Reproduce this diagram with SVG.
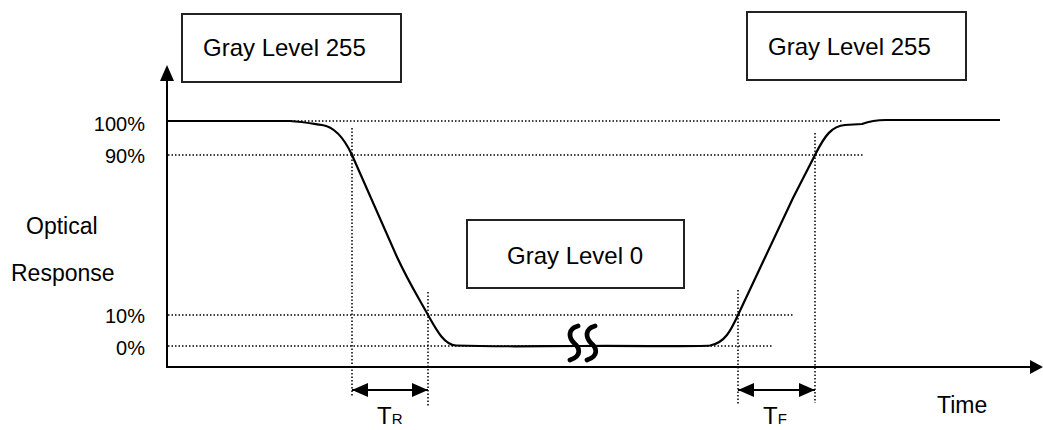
<svg xmlns="http://www.w3.org/2000/svg" width="1043" height="430" viewBox="0 0 1043 430">
<style>
text{font-family:"Liberation Sans",Arial,sans-serif;fill:#000}
.box{fill:#fff;stroke:#222;stroke-width:2}
.lbl{font-size:24px}
.pct{font-size:20px;text-anchor:end}
.ax{font-size:23px}
.dot{stroke:#000;stroke-width:1.5;stroke-dasharray:1.5 2;fill:none}
.solid{stroke:#000;stroke-width:2;fill:none}
.curve{stroke:#000;stroke-width:2.2;fill:none;stroke-linejoin:round}
.brk{stroke:#000;stroke-width:4.8;fill:none;stroke-linecap:round}
</style>
<defs>
<marker id="ah" viewBox="0 0 16 14" refX="16" refY="7" markerWidth="16" markerHeight="14" markerUnits="userSpaceOnUse" orient="auto-start-reverse">
<path d="M0,0 L16,7 L0,14 Z" fill="#000"/>
</marker>
</defs>
<g id="axes">
<line class="solid" x1="167" y1="78" x2="167" y2="367"/>
<path d="M167,65 L174,81 L160,81 Z" fill="#000"/>
<line class="solid" x1="166" y1="367" x2="1032" y2="367"/>
<path d="M1043,367 L1030,360 L1030,374 Z" fill="#000"/>
</g>
<g id="gridlines">
<line class="dot" x1="168" y1="121" x2="843" y2="121"/>
<line class="dot" x1="168" y1="155" x2="864" y2="155"/>
<line class="dot" x1="168" y1="315" x2="793" y2="315"/>
<line class="dot" x1="168" y1="346" x2="773" y2="346"/>
<line class="dot" x1="352" y1="128" x2="352" y2="397"/>
<line class="dot" x1="428" y1="292" x2="428" y2="406"/>
<line class="dot" x1="738" y1="290" x2="738" y2="404"/>
<line class="dot" x1="815" y1="133" x2="815" y2="403"/>
</g>
<g id="curve">
<path class="curve" d="M167,121 L290,121 C305,122 314,124 322,125 C336,127 345,140 352,155 L397,257 C410,285 420,300 428,315 C438,333 445,345 456,345.5 C500,347 540,346 580,346 C640,345.5 690,347 710,345.5 C725,343 731,330 738,315 L793,198 L815,155 C825,135 832,126 845,125 L862,124 C870,121 876,120 886,120 L1000,120"/>
<path class="brk" d="M578,326 C567,329 569,338 574,343 C580,348 582,356 570,360"/>
<path class="brk" d="M595,326 C584,329 586,338 591,343 C597,348 599,356 587,360"/>
</g>
<g id="connectors">
<line class="solid" x1="352" y1="390" x2="428" y2="390" marker-start="url(#ah)" marker-end="url(#ah)"/>
<line class="solid" x1="738" y1="390" x2="815" y2="390" marker-start="url(#ah)" marker-end="url(#ah)"/>
</g>
<g id="node-gray255-left">
<rect class="box" x="182" y="14" width="219" height="68"/>
<text class="lbl" x="203" y="56">Gray Level 255</text>
</g>
<g id="node-gray255-right">
<rect class="box" x="747" y="12" width="219" height="68"/>
<text class="lbl" x="768" y="55">Gray Level 255</text>
</g>
<g id="node-gray0">
<rect class="box" x="467" y="220" width="217" height="68"/>
<text class="lbl" x="507" y="264">Gray Level 0</text>
</g>
<g id="labels">
<text class="pct" x="145" y="131">100%</text>
<text class="pct" x="145" y="163">90%</text>
<text class="pct" x="145" y="323">10%</text>
<text class="pct" x="145" y="355">0%</text>
<text class="ax" x="26" y="234">Optical</text>
<text class="ax" x="11" y="281">Response</text>
<text class="ax" x="937" y="413">Time</text>
<text x="377" y="424" font-size="24">T<tspan font-size="15">R</tspan></text>
<text x="763" y="424" font-size="24">T<tspan font-size="15">F</tspan></text>
</g>
</svg>
